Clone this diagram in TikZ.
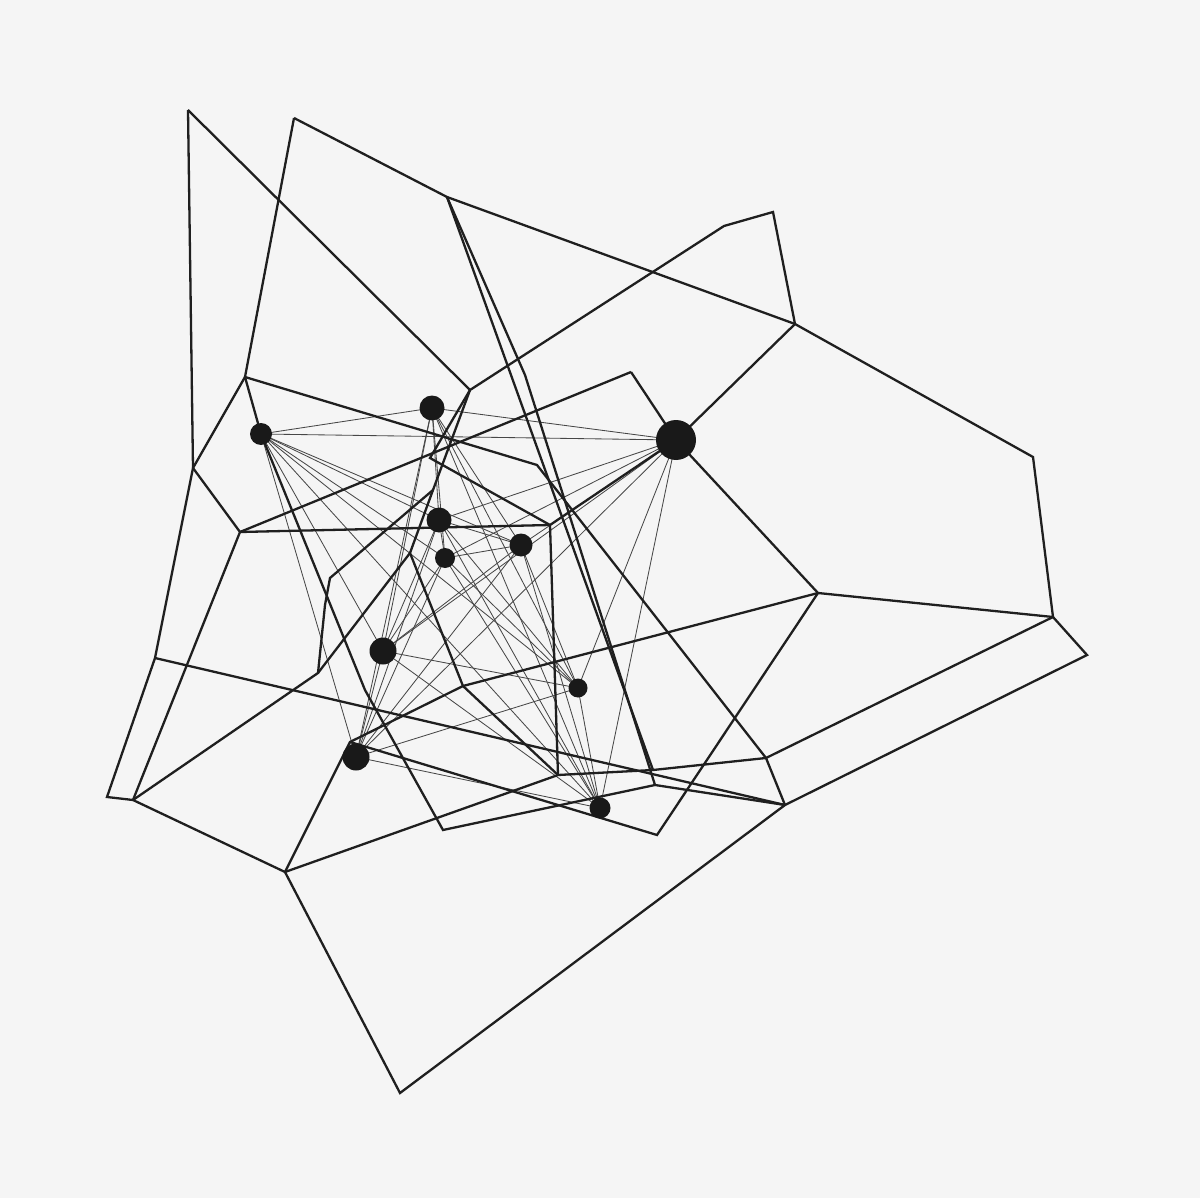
\documentclass[tikz,border=0pt]{standalone}
\begin{document}
\begin{tikzpicture}[x=0.5pt,y=-0.5pt,
  thickline/.style={draw=black!88, line width=1.15pt, line join=miter},
  thinline/.style={draw=black!72, line width=0.42pt},
  dot/.style={circle, fill=black!90, inner sep=0pt, draw=none}]
\fill[black!4] (0,0) rectangle (1200,1198);
\useasboundingbox (0,0) rectangle (1200,1198);
% vertices
\coordinate (A) at (188,110);
\coordinate (B) at (294,118);
\coordinate (C) at (447,197);
\coordinate (D) at (795,324);
\coordinate (E) at (773,212);
\coordinate (F) at (724,226);
\coordinate (G) at (470,390);
\coordinate (H) at (245,377);
\coordinate (I) at (193,468);
\coordinate (J) at (240,532);
\coordinate (K) at (155,658);
\coordinate (L) at (107,797);
\coordinate (M) at (133,800);
\coordinate (N) at (285,872);
\coordinate (O) at (400,1093);
\coordinate (P) at (785,805);
\coordinate (Q) at (1087,655);
\coordinate (R) at (1053,617);
\coordinate (S) at (1033,457);
\coordinate (T) at (818,593);
\coordinate (U) at (631,372);
\coordinate (V) at (766,758);
\coordinate (W) at (550,525);
\coordinate (X) at (430,458);
\coordinate (Y) at (537,465);
\coordinate (Z) at (558,775);
\coordinate (a1) at (653,770);
\coordinate (a2) at (655,785);
\coordinate (a3) at (443,830);
\coordinate (a4) at (365,690);
\coordinate (a5) at (657,835);
\coordinate (a6) at (350,742);
\coordinate (a7) at (463,686);
\coordinate (a8) at (410,553);
\coordinate (a9) at (318,673);
\coordinate (b1) at (330,578);
\coordinate (b2) at (325,605);
\coordinate (b3) at (525,375);
\coordinate (c1) at (433,490);
% node centres
\coordinate (n1) at (261,434);
\coordinate (n2) at (432,408);
\coordinate (n3) at (676,440);
\coordinate (n4) at (439,520);
\coordinate (n5) at (445,558);
\coordinate (n6) at (521,545);
\coordinate (n7) at (383,651);
\coordinate (n8) at (578,688);
\coordinate (n9) at (356,757);
\coordinate (n10) at (600,808);
% thin connectors between nodes
\foreach \s/\t in {n1/n2,n1/n3,n1/n4,n1/n5,n1/n6,n1/n7,n1/n8,n1/n9,n1/n10,
  n2/n3,n2/n4,n2/n5,n2/n6,n2/n7,n2/n8,n2/n9,n2/n10,
  n3/n4,n3/n5,n3/n6,n3/n7,n3/n8,n3/n9,n3/n10,
  n4/n5,n4/n6,n4/n7,n4/n8,n4/n9,n4/n10,
  n5/n6,n5/n7,n5/n8,n5/n9,n5/n10,
  n6/n7,n6/n8,n6/n9,n6/n10,
  n7/n8,n7/n9,n7/n10,
  n8/n9,n8/n10,n9/n10}
  \draw[thinline] (\s) -- (\t);
% thick polylines
\draw[thickline] (A) -- (I);
\draw[thickline] (A) -- (G);
\draw[thickline] (B) -- (H);
\draw[thickline] (B) -- (C) -- (D);
\draw[thickline] (G) -- (F) -- (E) -- (D);
\draw[thickline] (D) -- (S) -- (R) -- (Q) -- (P) -- (O) -- (N) -- (M) -- (L) -- (K) -- (I) -- (H);
\draw[thickline] (I) -- (J) -- (M);
\draw[thickline] (J) -- (W);
\draw[thickline] (U) -- (J);
\draw[thickline] (U) -- (n3) -- (T);
\draw[thickline] (D) -- (n3) -- (W);
\draw[thickline] (W) -- (Z);
\draw[thickline] (G) -- (X) -- (W);
\draw[thickline] (H) -- (Y) -- (V);
\draw[thickline] (H) -- (n1) -- (a4) -- (a3) -- (a2) -- (P);
\draw[thickline] (C) -- (a1);
\draw[thickline] (C) -- (b3) -- (a2);
\draw[thickline] (T) -- (R);
\draw[thickline] (T) -- (a5) -- (a6);
\draw[thickline] (T) -- (a7) -- (a6) -- (N);
\draw[thickline] (G) -- (c1) -- (a8) -- (a7) -- (Z);
\draw[thickline] (N) -- (Z) -- (a1) -- (V) -- (R);
\draw[thickline] (V) -- (P);
\draw[thickline] (K) -- (P);
\draw[thickline] (M) -- (a9) -- (b2) -- (b1) -- (c1);
\draw[thickline] (a9) -- (a8);
% nodes
\node[dot, minimum size=11pt] (m1) at (n1) {};
\node[dot, minimum size=12.5pt] (m2) at (n2) {};
\node[dot, minimum size=20pt] (m3) at (n3) {};
\node[dot, minimum size=12.5pt] (m4) at (n4) {};
\node[dot, minimum size=10pt] (m5) at (n5) {};
\node[dot, minimum size=11.5pt] (m6) at (n6) {};
\node[dot, minimum size=13.5pt] (m7) at (n7) {};
\node[dot, minimum size=9.5pt] (m8) at (n8) {};
\node[dot, minimum size=13.5pt] (m9) at (n9) {};
\node[dot, minimum size=10.5pt] (m10) at (n10) {};
\end{tikzpicture}
\end{document}
